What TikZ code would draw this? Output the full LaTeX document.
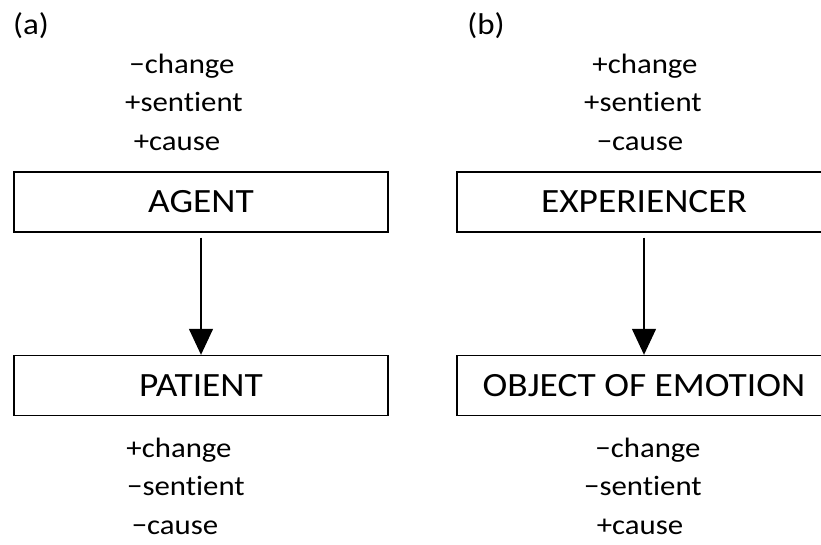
\documentclass[tikz,border=0pt]{standalone}
\usepackage{fontspec}
\setmainfont{Carlito}[FakeStretch=1.1, Ligatures=NoCommon]
\usetikzlibrary{arrows.meta}

\begin{document}
\begin{tikzpicture}[x=1pt, y=-1pt,
  rolebox/.style={draw, line width=1.4pt, minimum width=374pt, minimum height=60pt,
    inner sep=0pt, font=\fontsize{34}{40}\selectfont},
  feat/.style={anchor=base, inner sep=0pt, font=\fontsize{28}{34}\selectfont},
  flow/.style={-{Triangle[width=24pt,length=26pt]}, line width=1.4pt, shorten <=5pt}]
  \def\xa{201}   % centre of column (a)
  \def\xb{644}   % centre of column (b)
  \def\dy{38.5}  % feature line spacing
  \clip (0,0) rectangle (821,544);
  % panel labels
  \node[feat, font=\fontsize{30}{36}\selectfont] (pa) at (31,34) {(a)};
  \node[feat, font=\fontsize{30}{36}\selectfont] (pb) at (486,34) {(b)};
  % role boxes
  \node[rolebox] (agent)   at (\xa,202)   {AGENT};
  \node[rolebox] (patient) at (\xa,385.5) {PATIENT};
  \node[rolebox] (exper)   at (\xb,202)   {EXPERIENCER};
  \node[rolebox] (object)  at (\xb,385.5) {OBJECT OF EMOTION};
  % arrows
  \draw[flow] (agent) -- (patient);
  \draw[flow] (exper) -- (object);
  % features of (a)
  \node[feat] (ach) at (182,73)        {−change};
  \node[feat] (ase) at (184,73+\dy)    {+sentient};
  \node[feat] (aca) at (177,73+2*\dy)  {+cause};
  \node[feat] (pch) at (179,457)       {+change};
  \node[feat] (pse) at (186,457+\dy)   {−sentient};
  \node[feat] (pca) at (175,457+2*\dy) {−cause};
  % features of (b)
  \node[feat] (ech) at (645,73)        {+change};
  \node[feat] (ese) at (643,73+\dy)    {+sentient};
  \node[feat] (eca) at (640,73+2*\dy)  {−cause};
  \node[feat] (och) at (648,457)       {−change};
  \node[feat] (ose) at (643,457+\dy)   {−sentient};
  \node[feat] (oca) at (640,457+2*\dy) {+cause};
\end{tikzpicture}
\end{document}
